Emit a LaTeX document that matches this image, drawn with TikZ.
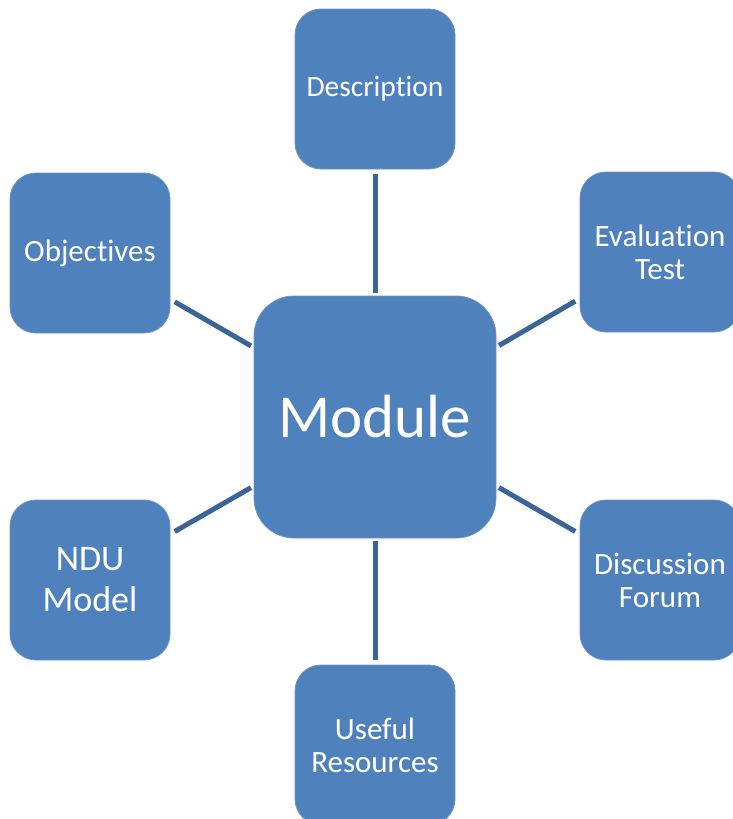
\documentclass[tikz,border=0pt]{standalone}
\usepackage{fontspec}
\setmainfont[Ligatures=NoCommon]{Carlito}
\definecolor{boxblue}{HTML}{4F81BD}
\definecolor{linkblue}{HTML}{3C6496}
\begin{document}
\begin{tikzpicture}[x=1pt,y=-1pt,
  boxbase/.style={rectangle, fill=boxblue, draw=boxblue!85!white, line width=0.8pt, text=white, align=center, inner sep=0pt},
  smallbox/.style={boxbase, minimum width=160pt, minimum height=160pt, rounded corners=26pt, font=\fontsize{31}{33}\selectfont},
  bigbox/.style={boxbase, minimum width=242pt, minimum height=242pt, rounded corners=40pt, font=\fontsize{61}{64}\selectfont},
  link/.style={draw=linkblue, line width=5pt, shorten <=5pt, shorten >=3pt}]
\useasboundingbox (0,0) rectangle (732,819);
\node[bigbox] (mod) at (375,417) {Module};
\node[smallbox, font=\fontsize{29.5}{33}\selectfont] (desc) at (375,89) {Description};
\node[smallbox] (eval) at (660,252) {Evaluation\\Test};
\node[smallbox] (obj) at (90,253) {Objectives};
\node[smallbox, font=\fontsize{36}{41}\selectfont] (ndu) at (90,580) {NDU\\Model};
\node[smallbox] (disc) at (660,580) {Discussion\\Forum};
\node[smallbox] (res) at (375,745) {Useful\\Resources};
\draw[link] (desc) -- (mod);
\draw[link] (eval) -- (mod);
\draw[link] (obj) -- (mod);
\draw[link] (ndu) -- (mod);
\draw[link] (disc) -- (mod);
\draw[link] (res) -- (mod);
\end{tikzpicture}
\end{document}
